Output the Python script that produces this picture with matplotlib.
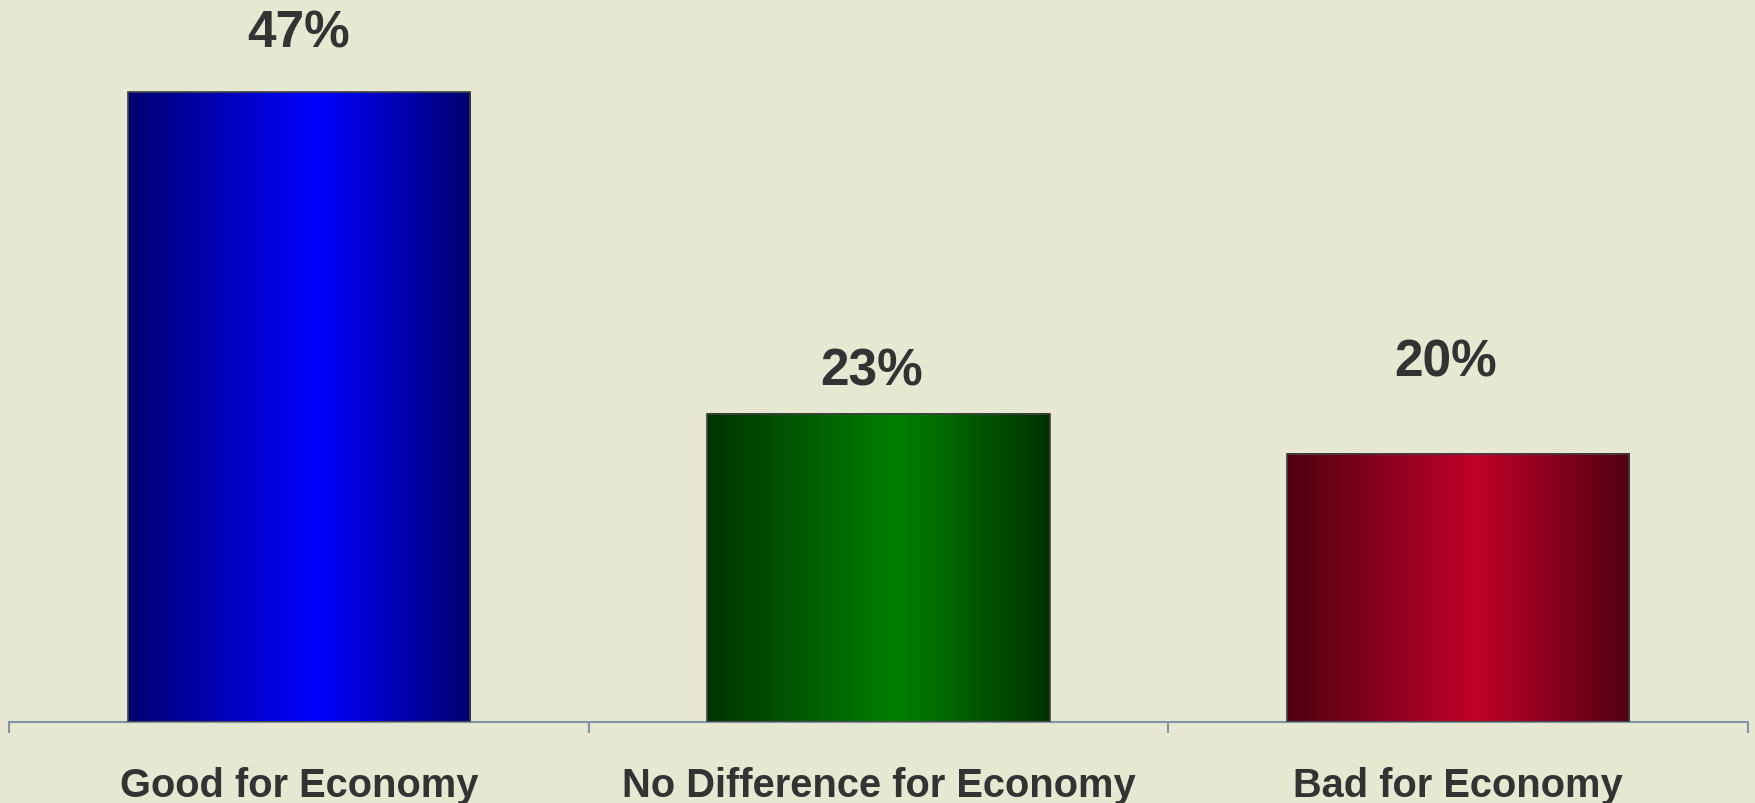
import numpy as np
import matplotlib
matplotlib.use("Agg")
import matplotlib.pyplot as plt
from matplotlib.colors import LinearSegmentedColormap

categories = ["Good for Economy", "No Difference for Economy", "Bad for Economy"]
values = [47, 23, 20]
labels = ["47%", "23%", "20%"]
label_offsets = [4.45, 3.2, 6.85]
label_dx = [0.0, -0.012, -0.022]
edge_colors = ["#000070", "#003300", "#500012"]
center_colors = ["#0000FF", "#008000", "#C00028"]

plt.rcParams['font.family'] = ['Liberation Sans', 'DejaVu Sans']
bg = "#E6E8D2"
fig = plt.figure(figsize=(17.55, 8.04), dpi=100, facecolor=bg)
ax = fig.add_axes([9/1755, 81/804, 1739/1755, 723/804])
ax.set_facecolor(bg)

width = 0.591
grad = np.linspace(0, 1, 256).reshape(1, -1)
for i, (v, ec, cc) in enumerate(zip(values, edge_colors, center_colors)):
    cmap = LinearSegmentedColormap.from_list(f"g{i}", [(0, ec), (0.55, cc), (1, ec)])
    x0, x1 = i - width/2, i + width/2
    ax.imshow(grad, cmap=cmap, extent=[x0, x1, 0, v], aspect='auto', zorder=2, interpolation='bilinear')
    ax.add_patch(plt.Rectangle((x0, 0), width, v, fill=False, edgecolor="#404040", linewidth=1.2, zorder=3))
    ax.text(i + label_dx[i], v + label_offsets[i], labels[i], ha='center', va='center',
            fontsize=37, fontweight='bold', color="#333333", zorder=4)
ax.set_xlim(-0.5, 2.5)
ax.set_ylim(0, 53.95)

for s in ['top', 'right', 'left']:
    ax.spines[s].set_visible(False)
ax.spines['bottom'].set_color("#8293A3")
ax.spines['bottom'].set_linewidth(1.5)
ax.set_yticks([])
ax.set_xticks([-0.5, 0.5, 1.5, 2.5])
ax.set_xticklabels([])
ax.tick_params(axis='x', which='major', length=8, width=1.5, color="#8293A3")
ax.set_xticks([0, 1, 2], minor=True)
ax.set_xticklabels(categories, minor=True, fontsize=28.7, fontweight='bold', color="#333333")
ax.tick_params(axis='x', which='minor', length=0, pad=32)

fig.savefig("out.png", dpi=100, facecolor=bg)
